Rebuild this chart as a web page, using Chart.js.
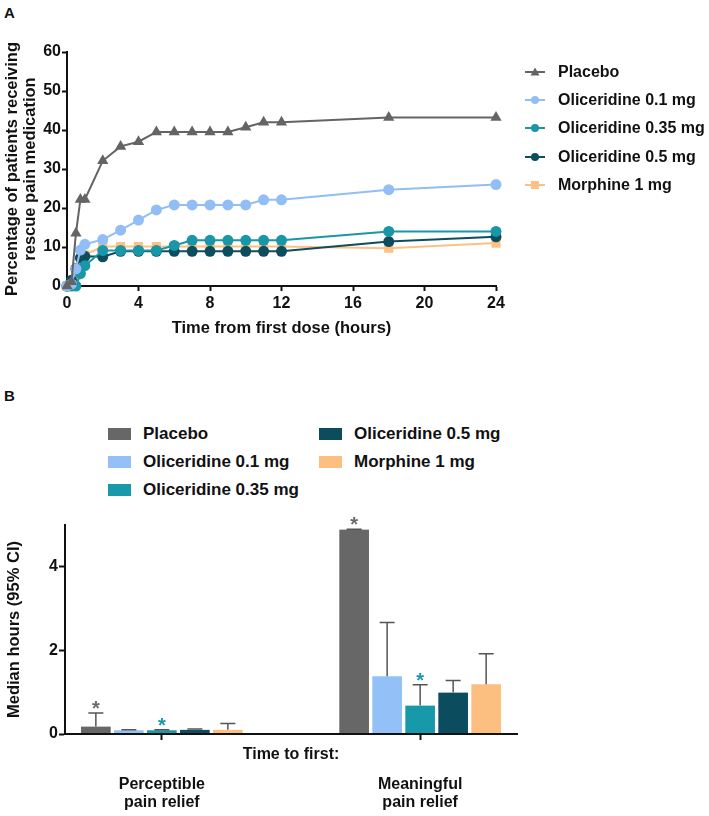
<!DOCTYPE html>
<html>
<head>
<meta charset="utf-8">
<script src="https://cdn.jsdelivr.net/npm/chart.js@4.4.1/dist/chart.umd.min.js"></script>
<style>
  body { margin: 0; width: 709px; height: 816px; background: #fff; position: relative; overflow: hidden;
         font-family: 'Liberation Sans', Arial, sans-serif; color: #111; }
  .tag { position: absolute; font-weight: bold; font-size: 15px; }
  #chartA { position: absolute; left: 0; top: 0; }
  #chartB { position: absolute; left: 0; top: 500px; }
  .lg { position: absolute; display: flex; align-items: center; height: 20px;
        font-weight: bold; white-space: nowrap; }
  .lgA { font-size: 16px; }
  .lgA svg { margin-right: 8px; }
  .lgB { font-size: 17px; }
  .lgB span { display: inline-block; width: 23px; height: 12px; margin-right: 12px; }
</style>
</head>
<body>
<div class="tag" style="left:4px; top:4px;">A</div>
<div class="tag" style="left:4px; top:387px;">B</div>
<canvas id="chartA" width="709" height="350"></canvas>
<div id="legendA"></div>
<div id="legendB"></div>
<canvas id="chartB" width="709" height="316"></canvas>

<script>
// ---- Panel A: cumulative % receiving rescue medication ----
const hours = [0, 0.25, 0.5, 0.75, 1, 2, 3, 4, 5, 6, 7, 8, 9, 10, 11, 12, 18, 24];
const placeboPct = [0, 1.1, 13.5, 22.2, 22.2, 32.1, 35.8, 37.0, 39.5, 39.5, 39.5, 39.5, 39.5, 40.7, 42.0, 42.0, 43.2, 43.2];
const olic01Pct = [0, 0.5, 4.4, 9.2, 10.7, 11.9, 14.3, 16.9, 19.5, 20.8, 20.8, 20.8, 20.8, 20.8, 22.1, 22.1, 24.7, 26.0];
const olic035Pct = [0, 0, 0, 3.2, 5.2, 9.1, 9.1, 9.1, 9.1, 10.4, 11.7, 11.7, 11.7, 11.7, 11.7, 11.7, 14.0, 14.0];
const olic05Pct = [0, 1.5, 4.5, 7.2, 7.6, 7.5, 8.9, 8.9, 8.9, 8.9, 8.9, 8.9, 8.9, 8.9, 8.9, 8.9, 11.4, 12.6];
const morphinePct = [0, 0, 2.6, 6.5, 8.0, 10.1, 10.1, 10.1, 10.1, 10.1, 10.1, 10.1, 10.1, 10.1, 10.1, 10.1, 9.7, 11.0];

// ---- Panel B: median time (hours) with upper 95% CI ----
const groupLabels = [['Perceptible', 'pain relief'], ['Meaningful', 'pain relief']];
const groupNote = 'Time to first:';
const placeboMed = [0.18, 4.89];
const placeboUpper = [0.5, 4.9];
const olic01Med = [0.09, 1.38];
const olic01Upper = [0.1, 2.67];
const olic035Med = [0.09, 0.68];
const olic035Upper = [0.1, 1.18];
const olic05Med = [0.1, 0.99];
const olic05Upper = [0.12, 1.28];
const morphineMed = [0.1, 1.19];
const morphineUpper = [0.25, 1.92];

const seriesNames = ['Placebo', 'Oliceridine 0.1 mg', 'Oliceridine 0.35 mg', 'Oliceridine 0.5 mg', 'Morphine 1 mg'];
const lineColors = ['#646464', '#92bef5', '#1997a7', '#0c4d5e', '#fcc185'];
const barColors = ['#676767', '#93c0f7', '#1899aa', '#0b4c5e', '#fdbf80'];
const markers = ['triangle', 'circle', 'circle', 'circle', 'rect'];

const FONT = "'Liberation Sans', Arial, sans-serif";
Chart.defaults.font.family = FONT;
Chart.defaults.color = '#111';

const tickFont = { size: 16, weight: 'bold' };

// legend for panel A: short line with marker, then the name
function iconSvg(color, style) {
    let mark;
    if (style === 'triangle') {
        mark = `<polygon points="27,3.5 31.5,11.5 22.5,11.5" fill="${color}"/>`;
    } else if (style === 'rect') {
        mark = `<rect x="23" y="4" width="8" height="8" fill="${color}"/>`;
    } else {
        mark = `<circle cx="27" cy="8" r="4" fill="${color}"/>`;
    }
    return `<svg width="42" height="16"><line x1="17" y1="8" x2="37" y2="8" stroke="${color}" stroke-width="2"/>${mark}</svg>`;
}

const legendA = document.getElementById('legendA');
seriesNames.forEach((name, i) => {
    const d = document.createElement('div');
    d.className = 'lg lgA';
    d.style.left = '508px';
    d.style.top = (72 + i * 28.2 - 10) + 'px';
    d.innerHTML = iconSvg(lineColors[i], markers[i]) + name;
    legendA.appendChild(d);
});

const lineSeries = [placeboPct, olic01Pct, olic035Pct, olic05Pct, morphinePct];

new Chart(document.getElementById('chartA'), {
    type: 'line',
    data: {
        datasets: lineSeries.map((vals, i) => ({
            label: seriesNames[i],
            data: hours.map((h, j) => ({ x: h, y: vals[j] })),
            borderColor: lineColors[i],
            backgroundColor: lineColors[i],
            pointBackgroundColor: lineColors[i],
            pointBorderColor: lineColors[i],
            pointBorderWidth: 0,
            pointStyle: markers[i],
            pointRadius: markers[i] === 'circle' ? 5.5 : 6.5,
            borderWidth: 2,
            tension: 0,
            clip: false
        }))
    },
    options: {
        responsive: false,
        animation: false,
        layout: { padding: { top: 52, right: 213, left: 0, bottom: 0 } },
        plugins: {
            tooltip: { enabled: false },
            legend: { display: false }
        },
        scales: {
            x: {
                type: 'linear',
                min: 0,
                max: 24,
                ticks: { stepSize: 4, font: tickFont, color: '#111', padding: 3 },
                grid: { drawOnChartArea: false, tickLength: 5, tickWidth: 2, tickColor: '#111' },
                border: { color: '#111', width: 2 },
                title: {
                    display: true,
                    text: 'Time from first dose (hours)',
                    color: '#111',
                    font: { size: 16.5, weight: 'bold' },
                    padding: { top: 0, bottom: 12 }
                },
                afterFit: (s) => { s.height = 64; }
            },
            y: {
                min: 0,
                max: 60,
                ticks: { stepSize: 10, font: tickFont, color: '#111', padding: 1 },
                grid: { drawOnChartArea: false, tickLength: 5, tickWidth: 2, tickColor: '#111' },
                border: { color: '#111', width: 2 },
                title: {
                    display: true,
                    text: ['Percentage of patients receiving', 'rescue pain medication'],
                    color: '#111',
                    font: { size: 16.5, weight: 'bold', lineHeight: '18px' },
                    padding: { top: 3, bottom: 0 }
                },
                afterFit: (s) => { s.width = 67; s.paddingTop = 5; }
            }
        }
    }
});

// ---- Panel B ----
// 7 category slots: the two groups sit in slots 1 and 5, the note in slot 3
const slotOf = [1, 5];
const slotLabels = ['', ['', '', ...groupLabels[0]], '', groupNote, '', ['', '', ...groupLabels[1]], ''];
function toSlots(vals) {
    const a = [null, null, null, null, null, null, null];
    slotOf.forEach((s, k) => { a[s] = vals[k]; });
    return a;
}

const medians = [placeboMed, olic01Med, olic035Med, olic05Med, morphineMed];
const uppers = [placeboUpper, olic01Upper, olic035Upper, olic05Upper, morphineUpper];
const starred = [[true, true], [false, false], [true, true], [false, false], [false, false]];
const starColors = ['#6a6a6a', '#1899aa', '#1899aa', '#1899aa', '#1899aa'];

const legendB = document.getElementById('legendB');
const legendSpots = [[108, 434], [108, 462], [108, 490], [319, 434], [319, 462]];
seriesNames.forEach((name, i) => {
    const d = document.createElement('div');
    d.className = 'lg lgB';
    d.style.left = legendSpots[i][0] + 'px';
    d.style.top = (legendSpots[i][1] - 10) + 'px';
    d.innerHTML = `<span style="background:${barColors[i]}"></span>${name}`;
    legendB.appendChild(d);
});

const errorBars = {
    id: 'errorBars',
    afterDatasetsDraw(chart) {
        const ctx = chart.ctx;
        const yScale = chart.scales.y;
        chart.data.datasets.forEach((ds, di) => {
            const meta = chart.getDatasetMeta(di);
            slotOf.forEach((slot, k) => {
                const bar = meta.data[slot];
                if (!bar) return;
                const yTop = yScale.getPixelForValue(uppers[di][k]);
                ctx.save();
                ctx.strokeStyle = '#555';
                ctx.lineWidth = 1.5;
                ctx.beginPath();
                ctx.moveTo(bar.x, bar.y);
                ctx.lineTo(bar.x, yTop);
                ctx.moveTo(bar.x - 7.5, yTop);
                ctx.lineTo(bar.x + 7.5, yTop);
                ctx.stroke();
                if (starred[di][k]) {
                    ctx.fillStyle = starColors[di];
                    ctx.font = `bold 20px ${FONT}`;
                    ctx.textAlign = 'center';
                    ctx.textBaseline = 'alphabetic';
                    ctx.fillText('*', bar.x, yTop + 2);
                }
                ctx.restore();
            });
        });
    }
};

new Chart(document.getElementById('chartB'), {
    type: 'bar',
    data: {
        labels: slotLabels,
        datasets: medians.map((vals, i) => ({
            label: seriesNames[i],
            data: toSlots(vals),
            backgroundColor: barColors[i],
            borderColor: '#ffffff',
            borderWidth: { left: 2, right: 2, top: 0, bottom: 0 },
            borderSkipped: false,
            barThickness: 33
        }))
    },
    options: {
        responsive: false,
        animation: false,
        layout: { padding: { top: 25, right: 192, left: 0, bottom: 0 } },
        plugins: { legend: { display: false }, tooltip: { enabled: false } },
        scales: {
            x: {
                ticks: {
                    autoSkip: false,
                    maxRotation: 0,
                    padding: 0,
                    color: '#111',
                    font: (ctx) => ({ size: 16, weight: 'bold', lineHeight: ctx.index === 3 ? '30px' : '18px' })
                },
                grid: {
                    offset: false,
                    drawOnChartArea: false,
                    tickLength: 6,
                    tickWidth: 2,
                    tickColor: (ctx) => (slotOf.includes(ctx.index) ? '#111' : 'rgba(0,0,0,0)')
                },
                border: { color: '#111', width: 2, z: 1 },
                afterFit: (s) => { s.height = 82; }
            },
            y: {
                min: 0,
                max: 5,
                afterBuildTicks: (s) => { s.ticks = s.ticks.filter(t => t.value % 2 === 0); },
                ticks: { stepSize: 2, font: tickFont, color: '#111', padding: 1 },
                grid: { drawOnChartArea: false, tickLength: 6, tickWidth: 2, tickColor: '#111' },
                border: { color: '#111', width: 2 },
                title: {
                    display: true,
                    text: 'Median hours (95% CI)',
                    color: '#111',
                    font: { size: 16.5, weight: 'bold' },
                    padding: { top: 5, bottom: 0 }
                },
                afterFit: (s) => { s.width = 65; s.paddingTop = 0; }
            }
        }
    },
    plugins: [errorBars]
});
</script>
</body>
</html>
